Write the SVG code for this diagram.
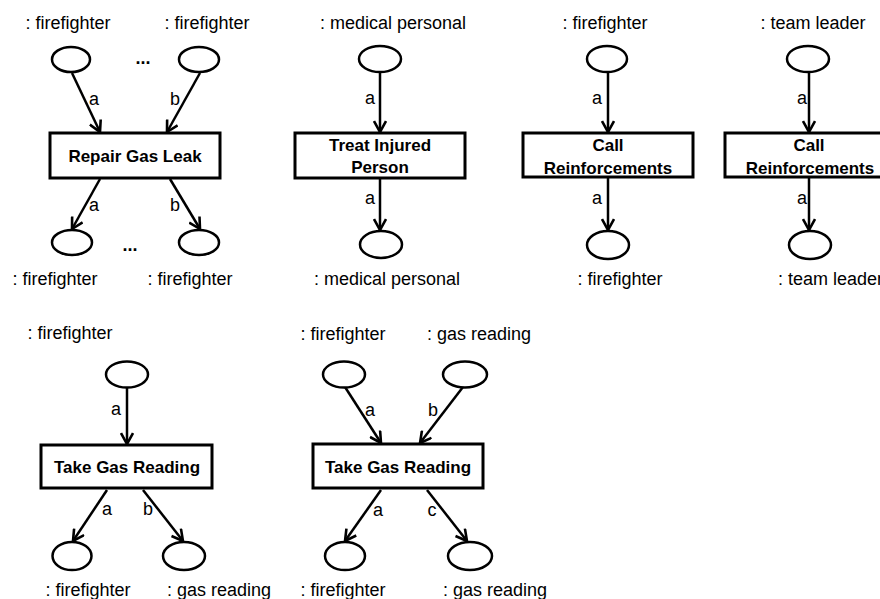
<svg xmlns="http://www.w3.org/2000/svg" width="880" height="599" viewBox="0 0 880 599">
<style>
.pl{fill:#fff;stroke:#000;stroke-width:2.5}
.tr{fill:#fff;stroke:#000;stroke-width:3}
.t{font-family:"Liberation Sans",Arial,sans-serif;font-size:18px;fill:#000;text-anchor:middle}
.b{font-family:"Liberation Sans",Arial,sans-serif;font-size:17px;font-weight:bold;fill:#000;text-anchor:middle}
.ar{stroke:#000;stroke-width:2.5;fill:none;marker-end:url(#ah)}
</style>
<defs>
<marker id="ah" viewBox="0 0 14 14" refX="12.5" refY="7" markerWidth="14" markerHeight="14" markerUnits="userSpaceOnUse" orient="auto">
<path d="M1.5,1 L12.5,7 L1.5,13" fill="none" stroke="#000" stroke-width="2.6"/>
</marker>
</defs>
<rect width="880" height="599" fill="#fff"/>

<g id="connectors">
<line class="ar" x1="72" y1="73" x2="100" y2="132"/>
<line class="ar" x1="200" y1="73" x2="167" y2="132"/>
<line class="ar" x1="100" y1="179" x2="72" y2="229"/>
<line class="ar" x1="170" y1="179" x2="200" y2="229"/>
<line class="ar" x1="380" y1="73" x2="380" y2="132"/>
<line class="ar" x1="380" y1="179" x2="380" y2="230"/>
<line class="ar" x1="608" y1="73" x2="608" y2="132"/>
<line class="ar" x1="608" y1="178" x2="608" y2="230"/>
<line class="ar" x1="809" y1="73" x2="809" y2="132"/>
<line class="ar" x1="809" y1="178" x2="809" y2="230"/>
<line class="ar" x1="127" y1="388" x2="127" y2="444"/>
<line class="ar" x1="107" y1="490" x2="73" y2="541"/>
<line class="ar" x1="143" y1="490" x2="183" y2="541"/>
<line class="ar" x1="345" y1="387" x2="381" y2="443"/>
<line class="ar" x1="463" y1="387" x2="420" y2="443"/>
<line class="ar" x1="381" y1="490" x2="345" y2="541"/>
<line class="ar" x1="427" y1="490" x2="467" y2="541"/>
<text class="t" x="94" y="105">a</text>
<text class="t" x="175" y="105">b</text>
<text class="t" x="94" y="211">a</text>
<text class="t" x="175" y="211">b</text>
<text class="t" x="370" y="104">a</text>
<text class="t" x="370" y="204">a</text>
<text class="t" x="597" y="104">a</text>
<text class="t" x="597" y="204">a</text>
<text class="t" x="802" y="104">a</text>
<text class="t" x="802" y="204">a</text>
<text class="t" x="116" y="415">a</text>
<text class="t" x="107" y="515">a</text>
<text class="t" x="148" y="515">b</text>
<text class="t" x="370" y="416">a</text>
<text class="t" x="433" y="416">b</text>
<text class="t" x="378" y="516">a</text>
<text class="t" x="432" y="516">c</text>
</g>

<g id="p1-in-a"><ellipse class="pl" cx="71" cy="59.5" rx="19" ry="12.5"/><text class="t" x="68" y="29">: firefighter</text></g>
<g id="p1-in-b"><ellipse class="pl" cx="199" cy="59.5" rx="20" ry="12.5"/><text class="t" x="207" y="29">: firefighter</text></g>
<text class="t" x="143" y="64" style="font-weight:bold">...</text>
<g id="p1-t"><rect class="tr" x="50" y="133" width="170" height="45"/><text class="b" x="135" y="162">Repair Gas Leak</text></g>
<g id="p1-out-a"><ellipse class="pl" cx="72" cy="242.5" rx="20" ry="12.5"/><text class="t" x="55" y="285">: firefighter</text></g>
<g id="p1-out-b"><ellipse class="pl" cx="199" cy="242.5" rx="20" ry="12.5"/><text class="t" x="190" y="285">: firefighter</text></g>
<text class="t" x="130" y="251" style="font-weight:bold">...</text>

<g id="p2-in"><ellipse class="pl" cx="380" cy="59" rx="21" ry="13"/><text class="t" x="393" y="29">: medical personal</text></g>
<g id="p2-t"><rect class="tr" x="295" y="133" width="170" height="45"/><text class="b" x="380" y="151">Treat Injured</text><text class="b" x="380" y="173">Person</text></g>
<g id="p2-out"><ellipse class="pl" cx="381" cy="244.5" rx="21" ry="13.5"/><text class="t" x="387" y="285">: medical personal</text></g>

<g id="p3-in"><ellipse class="pl" cx="607" cy="59" rx="20" ry="13"/><text class="t" x="605" y="29">: firefighter</text></g>
<g id="p3-t"><rect class="tr" x="523" y="133" width="170" height="44"/><text class="b" x="608" y="151">Call</text><text class="b" x="608" y="174">Reinforcements</text></g>
<g id="p3-out"><ellipse class="pl" cx="608" cy="245" rx="21" ry="14"/><text class="t" x="620" y="285">: firefighter</text></g>

<g id="p4-in"><ellipse class="pl" cx="808" cy="59" rx="21" ry="13"/><text class="t" x="813" y="29">: team leader</text></g>
<g id="p4-t"><rect class="tr" x="725" y="133" width="160" height="44"/><text class="b" x="809" y="151">Call</text><text class="b" x="810" y="174">Reinforcements</text></g>
<g id="p4-out"><ellipse class="pl" cx="810" cy="245" rx="21" ry="14"/><text class="t" x="778" y="285" style="text-anchor:start">: team leader</text></g>

<g id="p5-in"><ellipse class="pl" cx="127" cy="374.5" rx="21" ry="13"/><text class="t" x="70" y="339">: firefighter</text></g>
<g id="p5-t"><rect class="tr" x="41" y="445" width="171" height="43"/><text class="b" x="127" y="473">Take Gas Reading</text></g>
<g id="p5-out-a"><ellipse class="pl" cx="72" cy="556" rx="19.5" ry="14"/><text class="t" x="88" y="596">: firefighter</text></g>
<g id="p5-out-b"><ellipse class="pl" cx="184" cy="556" rx="21" ry="14"/><text class="t" x="219" y="596">: gas reading</text></g>

<g id="p6-in-a"><ellipse class="pl" cx="344" cy="374.5" rx="21" ry="13"/><text class="t" x="343" y="340">: firefighter</text></g>
<g id="p6-in-b"><ellipse class="pl" cx="465" cy="374.5" rx="22" ry="13"/><text class="t" x="479" y="340">: gas reading</text></g>
<g id="p6-t"><rect class="tr" x="313" y="444" width="170" height="44"/><text class="b" x="398" y="473">Take Gas Reading</text></g>
<g id="p6-out-a"><ellipse class="pl" cx="345" cy="556" rx="20" ry="14"/><text class="t" x="343" y="596">: firefighter</text></g>
<g id="p6-out-b"><ellipse class="pl" cx="470" cy="556" rx="22" ry="14"/><text class="t" x="495" y="596">: gas reading</text></g>
</svg>
